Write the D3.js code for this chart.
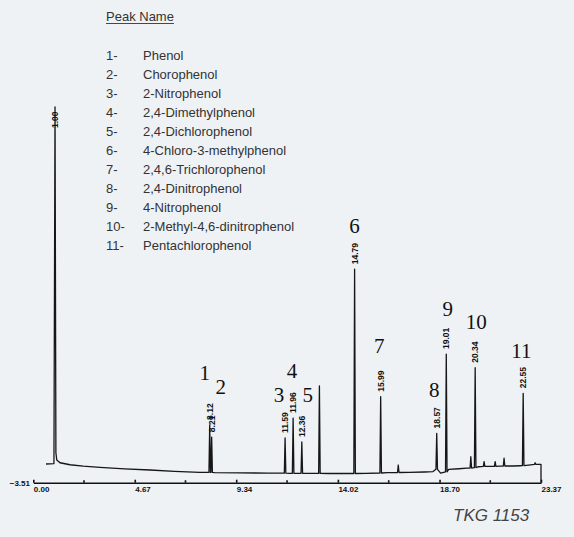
<!DOCTYPE html>
<html>
<head>
<meta charset="utf-8">
<script src="https://cdn.jsdelivr.net/npm/d3@7"></script>
<style>
  html, body { margin: 0; padding: 0; background: #eef2f5; }
  svg { display: block; }
</style>
</head>
<body>
<svg id="chart" width="574" height="537"></svg>
<script>
// Phenol standard mix – GC chromatogram

// Compounds, in elution order
const compounds = [
  "Phenol", "Chorophenol", "2-Nitrophenol", "2,4-Dimethylphenol",
  "2,4-Dichlorophenol", "4-Chloro-3-methylphenol", "2,4,6-Trichlorophenol",
  "2,4-Dinitrophenol", "4-Nitrophenol", "2-Methyl-4,6-dinitrophenol",
  "Pentachlorophenol"
];
const peakNumbers = ["1", "2", "3", "4", "5", "6", "7", "8", "9", "10", "11"];

// Retention time (min) printed at each numbered peak, apex response and the baseline under it
const retentionTimes = [8.12, 8.21, 11.59, 11.96, 12.36, 14.79, 15.99, 18.57, 19.01, 20.34, 22.55];
const peakResponse   = [16.8, 12.5, 12.2, 19.2, 10.8, 71.5, 26.7, 13.8, 41.7, 36.9, 27.9];
const peakFooting    = [0.1, 0.1, -0.18, -0.2, -0.2, -0.28, -0.1, 1.2, 0.3, 1.8, 2.5];

// Solvent front
const solventTime = 1.00;
const solventResponse = 128.5;

// Unnumbered minor peaks
const minorTimes    = [13.17, 16.80, 20.14, 20.75, 21.26, 21.67, 23.10];
const minorResponse = [30.5, 2.7, 5.6, 3.9, 3.9, 5.1, 3.5];
const minorFooting  = [-0.25, 0.07, 1.65, 2.2, 2.25, 2.35, 2.9];

// Detector baseline between peaks [time, response]
const baseline = [
  [0.585, 3.06], [0.95, 3.2], [1.04, 7.0], [1.08, 4.5], [1.23, 3.5], [1.69, 2.8],
  [2.3, 2.3], [3.07, 1.9], [4.2, 1.35], [5.37, 0.95], [6.5, 0.5], [7.67, 0.14],
  [8.0, 0.1], [8.35, 0.05], [9.5, -0.05], [10.8, -0.15], [11.3, -0.18],
  [11.78, -0.2], [12.15, -0.2], [12.8, -0.25], [13.6, -0.27], [14.3, -0.28],
  [15.3, -0.25], [16.3, 0.0], [17.3, 0.1], [18.0, 0.25], [18.4, 0.4],
  [18.75, -0.15], [19.12, 1.2], [19.6, 1.4], [19.95, 1.6], [20.5, 2.1],
  [20.95, 2.2], [21.45, 2.3], [22.1, 2.35], [22.4, 2.45], [22.8, 2.7],
  [23.3, 2.95], [23.37, 2.95], [23.37, -3.51]
];

// Recorder axis
const axisTickValues = [0, 4.67, 9.34, 14.02, 18.70, 23.37];
const axisTickLabels = ["0.00", "4.67", "9.34", "14.02", "18.70", "23.37"];
const axisMinorTicks = [2.335, 7.005, 11.68, 16.36, 21.035];
const signalMin = -3.51;
const signalMax = 128.5;
const timeMax = 23.37;

// Placement of the hand-written peak numbers, relative to each apex [dx, dy]
const numberOffsets = [
  [-5, -45], [9, -43], [-6, -35.5], [-1, -40], [6, -39.5], [0, -36],
  [-1.4, -43.4], [-2.4, -36.6], [1.5, -38], [1.2, -38.7], [-1.8, -35]
];

const svg = d3.select("#chart");
const x = d3.scaleLinear().domain([0, timeMax]).range([33.3, 541]);
const y = d3.scaleLinear().domain([signalMin, signalMax]).range([482.7, 107]);
const halfWidth = 0.035;

// ---- trace ----
const spikes = [];
retentionTimes.forEach((t, i) => {
  spikes.push([t - halfWidth, peakFooting[i]], [t, peakResponse[i]], [t + halfWidth, peakFooting[i]]);
});
minorTimes.forEach((t, i) => {
  spikes.push([t - halfWidth, minorFooting[i]], [t, minorResponse[i]], [t + halfWidth, minorFooting[i]]);
});
const trace = baseline.concat(spikes, [[solventTime, solventResponse]])
  .sort((a, b) => a[0] - b[0]);

svg.append("path")
  .datum(trace)
  .attr("fill", "none")
  .attr("stroke", "#161616")
  .attr("stroke-width", 1.3)
  .attr("stroke-linejoin", "round")
  .attr("d", d3.line().x(d => x(d[0])).y(d => y(d[1])));

// ---- axis ----
const axisY = y(signalMin);
const axis = d3.axisBottom(x)
  .tickValues(axisTickValues)
  .tickFormat((d, i) => axisTickLabels[i])
  .tickSizeInner(-3)
  .tickSizeOuter(0);
const gAxis = svg.append("g").attr("transform", `translate(0,${axisY})`).call(axis);
gAxis.select(".domain").attr("stroke", "#111").attr("stroke-width", 1.6);
gAxis.selectAll(".tick line").attr("stroke", "#111").attr("stroke-width", 1.6);
gAxis.selectAll(".tick text")
  .attr("x", 0).attr("y", 9.5).attr("dy", 0)
  .attr("text-anchor", "start")
  .attr("fill", "#111")
  .style("font", "bold 8px 'Liberation Sans', Arial, sans-serif");
gAxis.selectAll(".minor")
  .data(axisMinorTicks).enter().append("line")
  .attr("class", "minor")
  .attr("x1", d => x(d)).attr("x2", d => x(d))
  .attr("y1", -2.5).attr("y2", 0)
  .attr("stroke", "#111").attr("stroke-width", 1.6);

svg.append("text")
  .attr("x", 30).attr("y", axisY + 3)
  .attr("text-anchor", "end")
  .attr("fill", "#111")
  .style("font", "bold 8px 'Liberation Sans', Arial, sans-serif")
  .text(d3.format(".2f")(signalMin));

// ---- retention time labels (printed vertically above each apex) ----
const plotTop = y.range()[1];
function timeLabel(t, v) {
  const px = x(t);
  const base = Math.max(y(v) - 5, plotTop + 21);
  svg.append("text")
    .attr("transform", `translate(${px + 3},${base}) rotate(-90)`)
    .attr("text-anchor", "start")
    .attr("fill", "#111")
    .style("font", "bold 8.5px 'Liberation Sans', Arial, sans-serif")
    .text(d3.format(".2f")(t));
}
timeLabel(solventTime, solventResponse);
retentionTimes.forEach((t, i) => timeLabel(t, peakResponse[i]));

// ---- peak numbers ----
svg.selectAll(".peakno")
  .data(peakNumbers).enter().append("text")
  .attr("class", "peakno")
  .attr("x", (d, i) => x(retentionTimes[i]) + numberOffsets[i][0])
  .attr("y", (d, i) => y(peakResponse[i]) + numberOffsets[i][1])
  .attr("text-anchor", "middle")
  .attr("fill", "#111")
  .style("font", "21px 'Liberation Serif', 'Times New Roman', serif")
  .text(d => d);

// ---- legend ----
const legend = svg.append("g")
  .style("font", "13px 'Liberation Sans', Arial, sans-serif")
  .attr("fill", "#333");
const title = legend.append("text").attr("x", 106).attr("y", 21).text("Peak Name");
const tw = title.node().getComputedTextLength();
legend.append("line")
  .attr("x1", 106).attr("x2", 106 + tw)
  .attr("y1", 23.5).attr("y2", 23.5)
  .attr("stroke", "#333").attr("stroke-width", 0.9);
const rows = legend.selectAll(".row").data(compounds).enter().append("g")
  .attr("class", "row")
  .attr("transform", (d, i) => `translate(0,${60 + i * 19})`);
rows.append("text").attr("x", 106).text((d, i) => peakNumbers[i] + "-");
rows.append("text").attr("x", 143).text(d => d);

// ---- sample id ----
svg.append("text")
  .attr("x", 453).attr("y", 521)
  .attr("fill", "#444")
  .style("font", "italic 17px 'Liberation Sans', Arial, sans-serif")
  .text("TKG 1153");
</script>
</body>
</html>
